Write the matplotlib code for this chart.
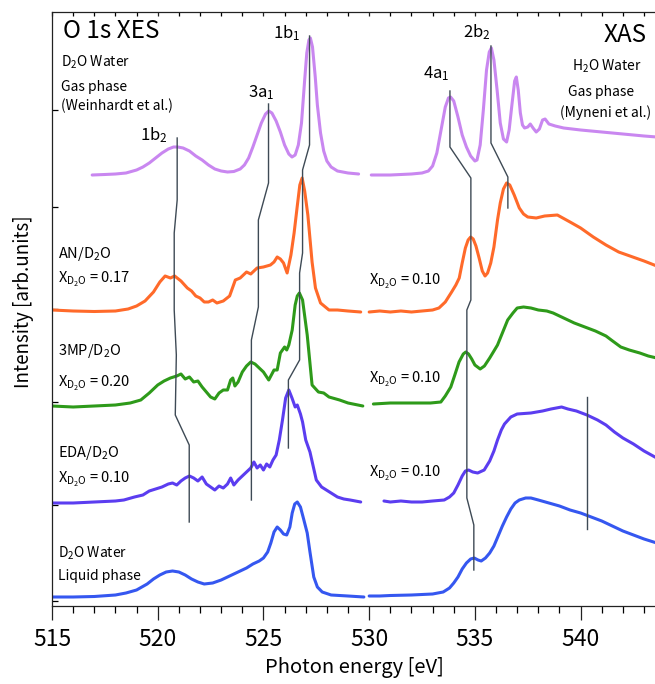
import matplotlib
matplotlib.use("Agg")
import matplotlib.pyplot as plt
import numpy as np

plt.rcParams['font.family'] = ['Noto Sans CJK JP', 'DejaVu Sans']

# ---------------- data (energies in eV, intensities in arb. units above each baseline) -------------
# XES gas phase D2O (Weinhardt)
xes_gas_e = [516.9, 517.5, 518.0, 518.5, 519.0, 519.3, 519.6, 519.9, 520.2, 520.5, 520.75, 520.95, 521.2,
             521.5, 521.8, 522.1, 522.4, 522.7, 523.0, 523.3, 523.6, 523.9, 524.1, 524.3, 524.5, 524.7, 524.9,
             525.1, 525.25, 525.4, 525.6, 525.8, 526.0, 526.2, 526.35, 526.5, 526.65, 526.8, 526.95, 527.05,
             527.15, 527.22, 527.32, 527.45, 527.55, 527.7, 527.85, 528.0, 528.2, 528.5, 529.0, 529.5]
xes_gas_i = [0, 0.5, 1, 2, 5, 8, 12, 17, 22, 26, 28, 28, 27,
             24, 19, 15, 10, 6, 4, 3, 3.5, 6, 10, 17, 28, 40, 52,
             61, 64, 62, 54, 43, 30, 21, 18, 20, 30, 52, 95, 122,
             135, 137, 128, 98, 70, 42, 24, 14, 8, 4, 2, 1]

# XAS gas phase H2O (Myneni)
xas_gas_e = [530.1, 531.0, 532.0, 532.5, 532.8, 533.0, 533.2, 533.4, 533.6, 533.75, 533.85, 534.0, 534.2,
             534.4, 534.6, 534.8, 535.0, 535.1, 535.25, 535.4, 535.55, 535.68, 535.78, 535.9, 536.05, 536.2,
             536.35, 536.5, 536.62, 536.75, 536.88, 536.96, 537.05, 537.15, 537.25, 537.35, 537.5, 537.62,
             537.75, 537.9, 538.05, 538.2, 538.32, 538.5, 538.8, 539.2, 540.0, 541.0, 542.0, 543.0, 543.6]
xas_gas_i = [0, 0, 1, 2, 4, 9, 22, 45, 68, 77, 78, 74, 58,
             40, 28, 19, 14, 15, 30, 65, 105, 123, 127, 115, 85, 52,
             36, 33, 45, 70, 94, 98, 85, 62, 50, 47, 48, 51,
             47, 43, 46, 55, 56, 51, 49, 47, 45, 43, 41, 39, 38]

# AN/D2O  XES
xes_an_e = [515.0, 516.0, 517.0, 518.0, 518.6, 519.0, 519.4, 519.8, 520.1, 520.35, 520.6, 520.8, 521.1, 521.4,
            521.6, 521.8, 522.0, 522.2, 522.4, 522.6, 522.8, 523.1, 523.4, 523.67, 523.9, 524.2, 524.4, 524.7,
            525.0, 525.33, 525.5, 525.65, 525.8, 525.95, 526.12, 526.3, 526.45, 526.6, 526.72, 526.83, 526.95,
            527.1, 527.3, 527.46, 527.7, 528.1, 528.5, 529.0, 529.6]
xes_an_i = [1, 0, -0.5, 0, 2, 5, 10, 19, 29, 35, 33, 35, 30, 23,
            20, 15, 13, 9, 9, 11, 8, 10, 15, 31, 33, 39, 37, 43,
            44, 46, 49, 54, 52, 48, 38, 56, 78, 105, 126, 133, 120,
            96, 49, 23, 8, 1, 1, 0, -1]

# 3MP/D2O  XES
xes_mp_e = [515.0, 516.0, 517.0, 518.0, 518.7, 519.2, 519.6, 520.0, 520.3, 520.6, 520.9, 521.1, 521.3, 521.5,
            521.7, 521.9, 522.1, 522.3, 522.5, 522.7, 522.9, 523.1, 523.3, 523.45, 523.55, 523.65, 523.8,
            524.0, 524.2, 524.4, 524.6, 524.8, 525.0, 525.25, 525.5, 525.65, 525.8, 526.0, 526.1, 526.2,
            526.36, 526.5, 526.6, 526.7, 526.85, 527.07, 527.3, 527.6, 527.85, 528.1, 528.6, 529.0, 529.7]
xes_mp_i = [0, -1, 0, 1, 3, 6, 13, 21, 25, 28, 30, 32, 27, 29,
            24, 25, 19, 14, 9, 7, 13, 16, 16, 26, 28, 20, 24,
            34, 40, 44, 42, 38, 34, 26, 36, 36, 53, 59, 56, 61,
            76, 101, 110, 113, 106, 71, 21, 14, 13, 9, 6, 3, 0]

# EDA/D2O  XES
xes_eda_e = [515.0, 516.0, 517.0, 518.0, 518.4, 518.9, 519.3, 519.6, 519.9, 520.2, 520.5, 520.7, 520.9, 521.1,
             521.3, 521.5, 521.7, 521.9, 522.1, 522.3, 522.5, 522.7, 522.9, 523.1, 523.3, 523.45, 523.6, 523.8,
             524.0, 524.2, 524.4, 524.55, 524.7, 524.85, 525.0, 525.15, 525.3, 525.45, 525.6, 525.75, 525.9,
             526.05, 526.2, 526.35, 526.5, 526.6, 526.75, 526.85, 527.0, 527.2, 527.5, 527.75, 527.9, 528.2,
             528.5, 528.8, 529.1, 529.6]
xes_eda_i = [-1, -1, 0, 1, 2, 5, 7, 11, 13, 15, 18, 19, 17, 21,
             24, 26, 24, 21, 25, 18, 15, 12, 16, 14, 18, 24, 17, 22,
             26, 30, 34, 40, 34, 37, 32, 38, 35, 42, 47, 62, 82,
             104, 112, 104, 95, 97, 88, 80, 62, 50, 22, 15, 13, 9,
             5, 3, 2, 0]

# liquid D2O  XES
xes_liq_e = [515.0, 516.0, 517.0, 518.0, 518.5, 519.0, 519.5, 519.8, 520.1, 520.4, 520.7, 521.0, 521.3, 521.6,
             521.9, 522.2, 522.6, 523.0, 523.4, 523.8, 524.2, 524.5, 524.8, 525.0, 525.2, 525.35, 525.5,
             525.65, 525.8, 525.95, 526.1, 526.25, 526.36, 526.48, 526.6, 526.75, 526.9, 527.07, 527.2,
             527.38, 527.55, 527.78, 528.2, 529.0, 529.75]
xes_liq_i = [0, 0, 0.5, 2, 4, 7, 13, 18, 22, 25, 26, 25, 22, 18,
             15, 13, 14, 17, 21, 25, 29, 33, 36, 39, 45, 54, 65,
             70, 67, 63, 62, 70, 84, 93, 95, 90, 78, 64, 45,
             20, 10, 5, 2, 1, 0]

# AN/D2O  XAS
xas_an_e = [530.0, 530.5, 531.0, 531.5, 532.0, 532.5, 533.0, 533.3, 533.6, 533.9, 534.1, 534.26, 534.4, 534.55,
            534.68, 534.8, 534.92, 535.05, 535.2, 535.35, 535.48, 535.6, 535.75, 535.9, 536.07, 536.2, 536.35,
            536.5, 536.65, 536.86, 537.1, 537.3, 537.5, 537.9, 538.3, 538.9, 539.5, 540.0, 540.6, 541.2,
            541.8, 542.2, 542.6, 543.0, 543.6]
xas_an_i = [-1, 0, -1, 0, -1, 0, 1, 3, 9, 19, 26, 33, 48, 63,
            71, 74, 72, 65, 53, 40, 35, 38, 48, 64, 91, 108, 122,
            128, 126, 116, 103, 97, 94, 93, 95, 96, 89, 83, 74, 66,
            59, 56, 53, 50, 45]

# 3MP/D2O  XAS
xas_mp_e = [530.2, 531.0, 532.0, 532.9, 533.39, 533.6, 533.86, 534.05, 534.25, 534.45, 534.57, 534.7, 534.85,
            535.0, 535.25, 535.45, 535.7, 535.9, 536.07, 536.3, 536.55, 536.8, 537.0, 537.3, 537.65, 538.0,
            538.4, 538.7, 538.9, 539.2, 539.7, 540.2, 540.7, 541.2, 541.45, 541.9, 542.3, 542.8, 543.2, 543.6]
xas_mp_i = [0, 1, 1, 1, 2, 8, 17, 29, 42, 50, 52, 50, 45,
            39, 35, 38, 46, 53, 59, 71, 84, 91, 96, 97, 96, 94,
            93, 91, 89, 86, 81, 77, 73, 68, 64, 57, 54, 51, 48, 46]

# EDA/D2O  XAS
xas_eda_e = [530.7, 531.0, 531.5, 532.0, 532.5, 533.0, 533.55, 533.8, 534.0, 534.2, 534.4, 534.55, 534.7, 534.9,
             535.13, 535.44, 535.7, 535.9, 536.07, 536.25, 536.4, 536.7, 537.0, 537.65, 538.2, 538.6, 539.1,
             539.4, 539.8, 540.3, 540.8, 541.2, 541.6, 542.0, 542.5, 543.0, 543.6]
xas_eda_i = [0, -1, 0, -1, -1, 0, 1, 4, 8, 16, 25, 30, 31, 29,
             28, 31, 40, 50, 61, 71, 77, 84, 87, 88, 90, 92, 94,
             92, 90, 86, 81, 76, 69, 63, 57, 50, 43]

# liquid D2O  XAS
xas_liq_e = [530.0, 530.5, 531.0, 532.0, 533.0, 533.5, 533.8, 534.0, 534.2, 534.4, 534.6, 534.8, 534.97, 535.15,
             535.3, 535.5, 535.7, 535.9, 536.1, 536.3, 536.5, 536.7, 536.9, 537.1, 537.4, 537.65, 538.0, 538.5,
             539.0, 539.5, 540.0, 540.5, 541.0, 541.5, 542.0, 542.5, 543.0, 543.6]
xas_liq_i = [0, 0, 0.5, 1, 2, 4, 8, 13, 19, 27, 33, 37, 38, 36,
             35, 38, 43, 50, 60, 70, 79, 87, 93, 96, 98, 98, 96, 93,
             90, 86, 83, 79, 75, 70, 65, 61, 57, 53]

# vertical offsets of each spectrum (XES, XAS)
offsets = {'gas': (431, 431), 'an': (295, 295), 'mp': (200, 202), 'eda': (104, 105), 'liq': (9, 10)}

# peak-tracking guide lines (energy, level)
guide_1b2 = ([520.92, 520.92, 520.78, 520.78, 520.88, 520.83, 521.49, 521.49],
             [468, 406, 373, 296, 251, 191, 161, 84])
guide_3a1 = ([525.24, 525.24, 524.76, 524.76, 524.43, 524.43],
             [502, 423, 386, 299, 266, 106])
guide_1b1 = ([527.18, 527.18, 526.85, 526.85, 526.71, 526.71, 526.18, 526.18],
             [570, 461, 436, 353, 333, 246, 226, 158])
guide_4a1 = ([533.82, 533.82, 534.81, 534.81, 534.62, 534.62, 534.95, 534.95],
             [515, 459, 428, 306, 296, 108, 81, 36])
guide_2b2 = ([535.76, 535.76, 536.56, 536.56], [560, 463, 429, 398])
guide_eda = ([540.31, 540.31], [209, 77])

c_gas = '#C987F0'
c_an = '#FF6A2A'
c_mp = '#2E9A1A'
c_eda = '#5B3DF0'
c_liq = '#3557F0'
c_guide = '#3E4A55'

# ---------------- figure ----------------
W, H = 655, 684
fig = plt.figure(figsize=(W / 100, H / 100), dpi=100)
ax = fig.add_axes([52 / W, (H - 606) / H, 1 - 52 / W + 0.002, 594 / H])
ax.set_xlim(515, 543.58)
ax.set_ylim(0, 594)


def Y(py):
    return 606 - py


def X(px):
    return 515 + (px - 52) / 21.1


lw = 2.2
series = [
    (xes_gas_e, xes_gas_i, xas_gas_e, xas_gas_i, 'gas', c_gas),
    (xes_an_e, xes_an_i, xas_an_e, xas_an_i, 'an', c_an),
    (xes_mp_e, xes_mp_i, xas_mp_e, xas_mp_i, 'mp', c_mp),
    (xes_eda_e, xes_eda_i, xas_eda_e, xas_eda_i, 'eda', c_eda),
    (xes_liq_e, xes_liq_i, xas_liq_e, xas_liq_i, 'liq', c_liq),
]
for e1, i1, e2, i2, key, col in series:
    o1, o2 = offsets[key]
    ax.plot(e1, np.array(i1) + o1, color=col, lw=lw, solid_capstyle='round', solid_joinstyle='round')
    ax.plot(e2, np.array(i2) + o2, color=col, lw=lw, solid_capstyle='round', solid_joinstyle='round')

for gx, gy in [guide_1b2, guide_3a1, guide_1b1, guide_4a1, guide_2b2, guide_eda]:
    ax.plot(gx, gy, color=c_guide, lw=1.0)

# ---------------- axes styling ----------------
ax.spines['right'].set_visible(False)
for s in ['left', 'bottom', 'top']:
    ax.spines[s].set_linewidth(0.9)
    ax.spines[s].set_color('#222222')
ax.set_xticks([515, 520, 525, 530, 535, 540])
ax.set_xticks(np.arange(515, 544, 1), minor=True)
ax.tick_params(axis='x', which='major', direction='out', length=10, width=0.9, pad=6,
               labelsize=16.5, top=True, colors='#222222', labelcolor='black')
ax.tick_params(axis='x', which='minor', direction='out', length=5, width=0.9, top=True)
for t in ax.xaxis.get_major_ticks() + ax.xaxis.get_minor_ticks():
    t.tick2line.set_marker(3)  # top ticks pointing inward
    t.tick2line.set_markersize(3)
ax.set_yticks([5, 101, 204, 297, 399, 496])
ax.tick_params(axis='y', direction='in', length=4, width=0.9, labelleft=False)

ax.set_xlabel('Photon energy [eV]', fontsize=14.5, labelpad=4)
fig.text(24 / W, 1 - 302 / H, 'Intensity [arb.units]', rotation=90, fontsize=13.5,
         ha='center', va='center')

# ---------------- texts ----------------
def txt(px, py, s, size, ha='left'):
    ax.text(X(px), Y(py), s, fontsize=size, ha=ha, va='baseline')


sub = lambda s: r'$\mathregular{_{' + s + r'}}$'
xd2o = 'X' + r'$\mathregular{_{D_2O}}$'

txt(63, 38, 'O 1s XES', 17.5)
txt(645, 42, 'XAS', 17.5, ha='right')

txt(61, 67, 'D' + sub('2') + 'O Water', 10)
txt(61, 91, 'Gas phase', 10)
txt(61, 110, '(Weinhardt et al.)', 10)

txt(606, 71, 'H' + sub('2') + 'O Water', 10, ha='center')
txt(600, 96, 'Gas phase', 10, ha='center')
txt(604, 117, '(Myneni et al.)', 10, ha='center')

txt(273, 38, '1b' + sub('1'), 12)
txt(248, 97, '3a' + sub('1'), 12)
txt(140, 140, '1b' + sub('2'), 12)
txt(422, 78, '4a' + sub('1'), 12)
txt(462, 37, '2b' + sub('2'), 12)

txt(58, 258, 'AN/D' + sub('2') + 'O', 10.5)
txt(58, 283, xd2o + ' = 0.17', 10.5)
txt(58, 355, '3MP/D' + sub('2') + 'O', 10.5)
txt(58, 387, xd2o + ' = 0.20', 10.5)
txt(58, 457, 'EDA/D' + sub('2') + 'O', 10.5)
txt(58, 483, xd2o + ' = 0.10', 10.5)
txt(58, 558, 'D' + sub('2') + 'O Water', 10)
txt(58, 580, 'Liquid phase', 10)

txt(368, 285, xd2o + ' = 0.10', 10.5)
txt(368, 383, xd2o + ' = 0.10', 10.5)
txt(368, 477, xd2o + ' = 0.10', 10.5)

fig.savefig('out.png', dpi=100)
